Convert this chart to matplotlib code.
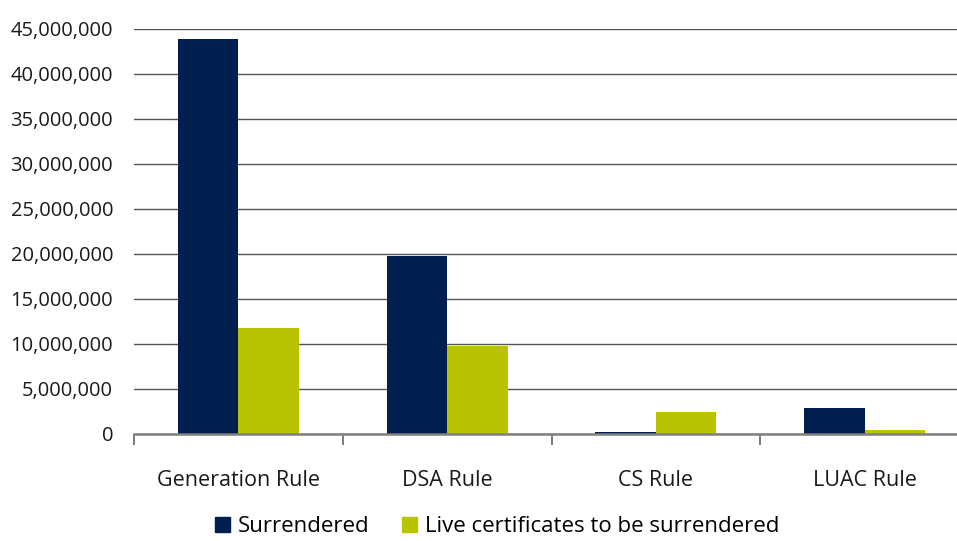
import numpy as np
import matplotlib.pyplot as plt
from matplotlib.ticker import FuncFormatter, FixedLocator
from matplotlib.patches import Patch

plt.rcParams['font.family'] = ['Open Sans', 'DejaVu Sans']

rules = ["Generation Rule", "DSA Rule", "CS Rule", "LUAC Rule"]
surrendered = [43900000, 19700000, 170000, 2850000]
live_to_surrender = [11700000, 9700000, 2400000, 400000]
series_names = ["Surrendered", "Live certificates to be surrendered"]

navy = "#001E50"
lime = "#B8C400"
text_col = "#1a1a1a"

fig = plt.figure(figsize=(9.57, 5.41), dpi=100)
# right edge of the plot runs a little past the canvas
ax = fig.add_axes([134 / 957, 0.1987, 835 / 957, 0.748])

x = np.arange(len(rules))
w = 0.29
ax.bar(x - w / 2, surrendered, w, color=navy, zorder=3)
ax.bar(x + w / 2, live_to_surrender, w, color=lime, zorder=3)

ax.set_xlim(-0.5, len(rules) - 0.5)
ax.set_ylim(0, 45000000)
ax.set_yticks(np.arange(0, 45000001, 5000000))
ax.yaxis.set_major_formatter(FuncFormatter(lambda v, p: f"{int(v):,}"))
ax.yaxis.grid(True, color="#555555", linewidth=1.0, zorder=0)

ax.set_xticks(x)
ax.set_xticklabels(rules)
ax.xaxis.set_minor_locator(FixedLocator(np.arange(-0.5, len(rules), 1.0)))
ax.tick_params(axis="x", which="major", length=0, pad=26, labelsize=15.5, colors=text_col)
ax.tick_params(axis="x", which="minor", length=8, width=1.2, color="#666666", direction="out")
ax.tick_params(axis="y", length=0, pad=15, labelsize=14.5, colors=text_col)

for side in ["top", "right", "left"]:
    ax.spines[side].set_visible(False)
ax.spines["bottom"].set_color("#808080")
ax.spines["bottom"].set_linewidth(1.8)
ax.spines["bottom"].set_zorder(4)

handles = [Patch(color=navy), Patch(color=lime)]
fig.legend(handles, series_names, loc="center", bbox_to_anchor=(497 / 957, 1 - 527 / 541),
           ncol=2, frameon=False, fontsize=16, handlelength=0.65, handleheight=0.65,
           handletextpad=0.35, columnspacing=1.5, borderpad=0.2)

fig.savefig("out.png", dpi=100)
